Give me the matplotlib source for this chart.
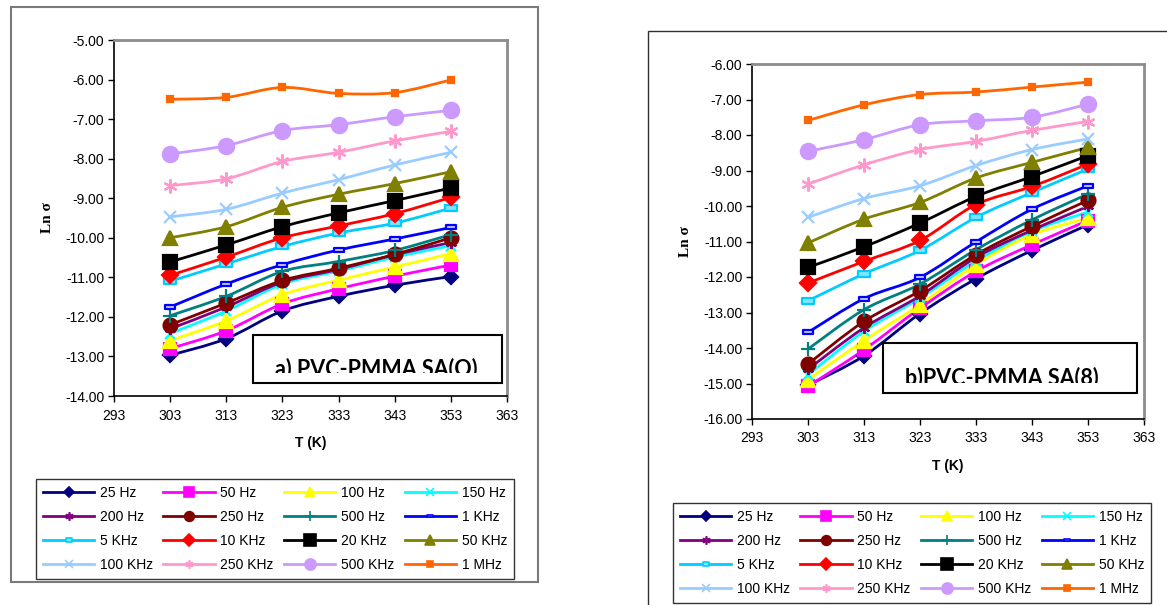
import matplotlib
matplotlib.use("Agg")
import matplotlib.pyplot as plt
from matplotlib.path import Path
from matplotlib.patches import PathPatch, Rectangle
from matplotlib.lines import Line2D
from matplotlib.transforms import Bbox, TransformedBbox
import numpy as np

# ---------------- data ----------------
T = [303, 313, 323, 333, 343, 353]
labels = ["25 Hz", "50 Hz", "100 Hz", "150 Hz", "200 Hz", "250 Hz", "500 Hz", "1 KHz",
          "5 KHz", "10 KHz", "20 KHz", "50 KHz", "100 KHz", "250 KHz", "500 KHz", "1 MHz"]

a_25 = [-12.97, -12.55, -11.85, -11.48, -11.20, -10.98]
a_50 = [-12.80, -12.35, -11.67, -11.29, -10.97, -10.69]
a_100 = [-12.60, -12.10, -11.44, -11.07, -10.74, -10.40]
a_150 = [-12.42, -11.85, -11.17, -10.84, -10.49, -10.20]
a_200 = [-12.30, -11.75, -11.12, -10.80, -10.43, -10.12]
a_250 = [-12.20, -11.65, -11.08, -10.77, -10.42, -10.00]
a_500 = [-11.97, -11.48, -10.85, -10.60, -10.32, -9.92]
a_1k = [-11.75, -11.17, -10.68, -10.31, -10.03, -9.74]
a_5k = [-11.10, -10.66, -10.22, -9.88, -9.63, -9.25]
a_10k = [-10.95, -10.49, -10.00, -9.70, -9.39, -8.98]
a_20k = [-10.61, -10.18, -9.72, -9.37, -9.06, -8.74]
a_50k = [-10.00, -9.72, -9.23, -8.90, -8.63, -8.33]
a_100k = [-9.47, -9.28, -8.87, -8.53, -8.16, -7.84]
a_250k = [-8.68, -8.51, -8.07, -7.84, -7.55, -7.31]
a_500k = [-7.88, -7.67, -7.29, -7.14, -6.94, -6.78]
a_1M = [-6.50, -6.45, -6.20, -6.35, -6.33, -6.01]

b_25 = [-15.05, -14.22, -13.03, -12.05, -11.25, -10.53]
b_50 = [-15.08, -14.05, -12.88, -11.84, -11.09, -10.41]
b_100 = [-14.89, -13.79, -12.78, -11.65, -10.81, -10.34]
b_150 = [-14.75, -13.53, -12.59, -11.55, -10.71, -10.17]
b_200 = [-14.60, -13.43, -12.53, -11.45, -10.68, -10.01]
b_250 = [-14.45, -13.25, -12.39, -11.37, -10.57, -9.84]
b_500 = [-14.03, -12.92, -12.20, -11.23, -10.39, -9.66]
b_1k = [-13.56, -12.61, -12.01, -11.01, -10.09, -9.43]
b_5k = [-12.67, -11.91, -11.25, -10.32, -9.62, -8.96]
b_10k = [-12.17, -11.56, -10.97, -9.96, -9.45, -8.82]
b_20k = [-11.73, -11.15, -10.48, -9.73, -9.17, -8.58]
b_50k = [-11.04, -10.37, -9.90, -9.21, -8.77, -8.35]
b_100k = [-10.32, -9.79, -9.43, -8.86, -8.41, -8.11]
b_250k = [-9.38, -8.84, -8.41, -8.18, -7.87, -7.62]
b_500k = [-8.46, -8.13, -7.71, -7.60, -7.50, -7.13]
b_1M = [-7.59, -7.15, -6.86, -6.79, -6.65, -6.51]

series_a = [a_25, a_50, a_100, a_150, a_200, a_250, a_500, a_1k,
            a_5k, a_10k, a_20k, a_50k, a_100k, a_250k, a_500k, a_1M]
series_b = [b_25, b_50, b_100, b_150, b_200, b_250, b_500, b_1k,
            b_5k, b_10k, b_20k, b_50k, b_100k, b_250k, b_500k, b_1M]

x_ticks = [293, 303, 313, 323, 333, 343, 353, 363]
y_ticks_a = [-5, -6, -7, -8, -9, -10, -11, -12, -13, -14]
y_ticks_b = [-6, -7, -8, -9, -10, -11, -12, -13, -14, -15, -16]

# ---------------- styles ----------------
dash_marker = Path([(-1.6, -0.7), (1.6, -0.7), (1.6, 0.7), (-1.6, 0.7), (-1.6, -0.7)],
                   [Path.MOVETO, Path.LINETO, Path.LINETO, Path.LINETO, Path.CLOSEPOLY])
star6 = (6, 2, 0)
styles = [
    dict(color="#000080", marker="D", ms=7, mfc="#000080"),
    dict(color="#FF00FF", marker="s", ms=8, mfc="#FF00FF"),
    dict(color="#FFFF00", marker="^", ms=9.5, mfc="#FFFF00"),
    dict(color="#00FFFF", marker="x", ms=7, mfc="#00FFFF"),
    dict(color="#800080", marker=star6, ms=8, mfc="#800080"),
    dict(color="#800000", marker="o", ms=10, mfc="#800000"),
    dict(color="#008080", marker="+", ms=10, mfc="#008080"),
    dict(color="#0000FF", marker=dash_marker, ms=7, mfc="#CCCCFF"),
    dict(color="#00CCFF", marker=dash_marker, ms=9, mfc="#80E6FF"),
    dict(color="#FF0000", marker="D", ms=8, mfc="#FF0000"),
    dict(color="#000000", marker="s", ms=10, mfc="#000000"),
    dict(color="#808000", marker="^", ms=10.5, mfc="#808000"),
    dict(color="#99CCFF", marker="x", ms=9, mfc="#99CCFF"),
    dict(color="#FF99CC", marker=star6, ms=10, mfc="#FF99CC"),
    dict(color="#CC99FF", marker="o", ms=11, mfc="#CC99FF"),
    dict(color="#FF6600", marker="s", ms=5, mfc="#FF6600"),
]
legend_ms = [5, 7, 7, 6, 6, 7, 7, 4, 5, 6, 8, 7, 6, 6, 8, 5]

W, H = 1167, 605
plt.rcParams["font.family"] = ["Liberation Sans", "DejaVu Sans"]
fig = plt.figure(figsize=(W / 100, H / 100), dpi=100)


def rect_px(x0, y0, x1, y1):
    return [x0 / W, 1 - y1 / H, (x1 - x0) / W, (y1 - y0) / H]


def smooth_path(xs, ys):
    p = np.column_stack([xs, ys]).astype(float)
    n = len(p)
    ext = np.vstack([p[0], p, p[-1]])
    verts = [p[0]]
    codes = [Path.MOVETO]
    for i in range(n - 1):
        p0, p1, p2, p3 = ext[i], ext[i + 1], ext[i + 2], ext[i + 3]
        c1 = p1 + (p2 - p0) / 6.0
        c2 = p2 - (p3 - p1) / 6.0
        verts += [c1, c2, p2]
        codes += [Path.CURVE4] * 3
    return Path(verts, codes)


def draw_panel(rect, series, ylim, yticks):
    ax = fig.add_axes(rect)
    for data, st in zip(series, styles):
        ax.add_patch(PathPatch(smooth_path(T, data), fill=False, ec=st["color"], lw=2.0,
                               capstyle="round", joinstyle="round"))
        ax.plot(T, data, linestyle="none", marker=st["marker"], ms=st["ms"],
                mfc=st["mfc"], mec=st["color"], mew=1.6)
    ax.set_xlim(293, 363)
    ax.set_ylim(*ylim)
    ax.set_xticks(x_ticks)
    ax.set_yticks(yticks)
    ax.set_yticklabels([f"{v:.2f}" for v in yticks])
    ax.tick_params(direction="out", length=4, width=1, labelsize=10, pad=3)
    ax.tick_params(axis="x", pad=5)
    ax.spines["left"].set_color("black")
    ax.spines["bottom"].set_color("black")
    ax.spines["left"].set_linewidth(1.2)
    ax.spines["bottom"].set_linewidth(1.2)
    for s in ("top", "right"):
        ax.spines[s].set_color("#8c8c8c")
        ax.spines[s].set_linewidth(2)
    return ax


def title_box(x0, y0, x1, y1, text, tx, tbase, clip_y):
    fig.patches.append(Rectangle((x0 / W, 1 - y1 / H), (x1 - x0) / W, (y1 - y0) / H,
                                 transform=fig.transFigure, fill=True, fc="white",
                                 ec="black", lw=1.5, zorder=5))
    t = fig.text(tx / W, 1 - tbase / H, text, ha="center", va="baseline",
                 fontsize=15.5, fontweight="bold", family=["Lato", "DejaVu Sans"], zorder=6)
    bb = Bbox.from_extents(x0 / W, 1 - clip_y / H, x1 / W, 1 - y0 / H)
    t.set_clip_box(TransformedBbox(bb, fig.transFigure))
    t.set_clip_on(True)


def make_legend(cx, cy):
    handles = []
    for st, ms in zip(styles, legend_ms):
        handles.append(Line2D([], [], color=st["color"], lw=2, marker=st["marker"], ms=ms,
                              mfc=st["mfc"], mec=st["color"], mew=1.2))
    order = []
    ncol = 4
    nrow = 4
    for c in range(ncol):
        for r in range(nrow):
            order.append(r * ncol + c)
    leg = fig.legend([handles[i] for i in order], [labels[i] for i in order],
                     loc="center", bbox_to_anchor=(cx / W, 1 - cy / H), ncol=4,
                     fontsize=10, frameon=True, fancybox=False, edgecolor="black",
                     handlelength=3.7, handletextpad=0.4, columnspacing=0.75,
                     labelspacing=0.72, borderpad=0.5, borderaxespad=0)
    leg.get_frame().set_linewidth(1.0)
    return leg


# outer chart frames
fig.patches.append(Rectangle((11 / W, 1 - 582 / H), (538 - 11) / W, (582 - 7) / H,
                             transform=fig.transFigure, fill=False, ec="#7a7a7a", lw=1.5))
fig.patches.append(Rectangle((648 / W, 1 - 640 / H), (1200 - 648) / W, (640 - 31) / H,
                             transform=fig.transFigure, fill=False, ec="#303030", lw=1.0))

ax_a = draw_panel(rect_px(114, 40, 507, 396), series_a, (-14, -5), y_ticks_a)
ax_b = draw_panel(rect_px(752, 64, 1144, 419), series_b, (-16, -6), y_ticks_b)

for ax in (ax_a, ax_b):
    ax.set_xlabel("T (K)", fontsize=10, fontweight="bold", labelpad=10)
    ax.set_ylabel("Ln σ", fontsize=11, fontweight="bold",
                  family=["Liberation Serif", "DejaVu Serif"], labelpad=8)

title_box(253, 335, 502, 383, "a) PVC-PMMA SA(O)", 376, 375, 373)
title_box(883, 343, 1137, 393, "b)PVC-PMMA SA(8)", 1002, 384, 383)

make_legend(275, 529)
make_legend(912, 553)

fig.savefig("out.png", dpi=100)
